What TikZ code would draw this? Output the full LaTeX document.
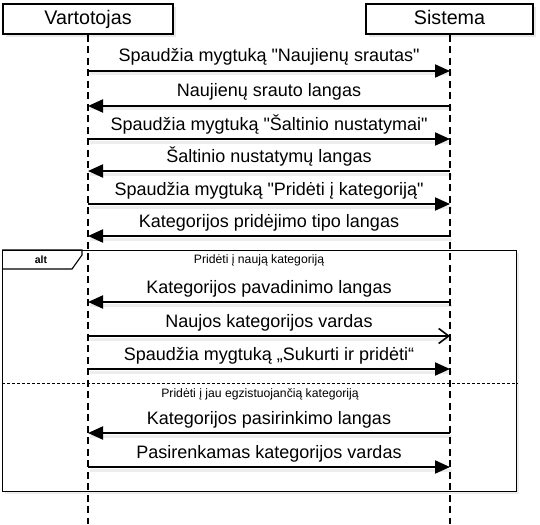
\documentclass[tikz,border=0pt]{standalone}
\usepackage{fontspec}
\setmainfont{Liberation Sans}
\usetikzlibrary{arrows.meta,shadows}
\newcommand{\qq}{\textquotedbl}
\begin{document}
\begin{tikzpicture}[x=1pt,y=-1pt,
  actor/.style={draw=black,line width=1.8pt,fill=white,minimum width=170pt,minimum height=30pt,inner sep=0pt,
     text height=14.2pt,text depth=4pt,
     font=\fontsize{19.7}{22}\selectfont,
     drop shadow={opacity=0.18,shadow xshift=3pt,shadow yshift=-3pt}},
  lifeline/.style={line width=2.2pt,dash pattern=on 7pt off 4.5pt},
  msg/.style={line width=2pt},
  msgshadow/.style={line width=3pt,draw=black,opacity=0.07},
  filled/.style={-{Triangle[length=15pt,width=13pt]}},
  openhead/.style={-{Straight Barb[length=10pt,width=15pt,line width=1.6pt]}},
  msglabel/.style={inner sep=0pt,font=\fontsize{18}{20}\selectfont},
  small/.style={anchor=base,inner sep=0pt,font=\fontsize{12.2}{14}\selectfont},
  frame/.style={draw=black,line width=1.1pt},
]
\useasboundingbox (0,0) rectangle (540,524);
\fill[white] (0,0) rectangle (540,524);

% alt frame
\fill[black,opacity=0.07] (5,253) rectangle (519,494);
\fill[white] (2,250) rectangle (516,491);
\node[frame,draw,minimum width=514pt,minimum height=241pt,inner sep=0pt,anchor=north west] (altframe) at (2,250) {};
\draw[frame] (2,250) -- (82,250) -- (82,255) -- (72,269) -- (2,269);
\node[inner sep=0pt,font=\fontsize{10.5}{12}\selectfont\bfseries] (altlabel) at (41,259.5) {alt};
\draw[line width=0.8pt,dash pattern=on 3pt off 2pt] (altframe.west |- 0,383) coordinate (sepL) -- (altframe.east |- 0,383) coordinate (sepR);
\node[small] (g1) at (259,263.5) {Pridėti į naują kategoriją};
\node[small] (g2) at (260,397.5) {Pridėti į jau egzistuojančią kategoriją};

% actors
\node[actor] (V) at (88,19) {Vartotojas};
\node[actor,minimum width=167pt] (S) at (449.5,19) {Sistema};
\coordinate (Vend) at (88,524);
\coordinate (Send) at (450,524);
\draw[lifeline] (V.south) -- (Vend);
\draw[lifeline] (S.south -| Send) -- (Send);

% message anchors on lifelines
\foreach \n/\yy in {1/71,2/106,3/139,4/171,5/204,6/236,7/302,8/336,9/369,10/433,11/467}{
  \coordinate (v\n) at (88,\yy);
  \coordinate (s\n) at (450,\yy);
}

% shadows of message lines
\foreach \n in {1,...,11}{
  \draw[msgshadow] ([shift={(2,3)}]v\n) -- ([shift={(2,3)}]s\n);
}

% messages
\tikzset{lbl/.style={msglabel,midway,above=9pt,anchor=base}}
\draw[msg,filled] (v1) -- (s1) node[lbl] (m1) {Spaudžia mygtuką \qq Naujienų srautas\qq};
\draw[msg,filled] (s2) -- (v2) node[lbl] (m2) {Naujienų srauto langas};
\draw[msg,filled] (v3) -- (s3) node[lbl] (m3) {Spaudžia mygtuką \qq Šaltinio nustatymai\qq};
\draw[msg,filled] (s4) -- (v4) node[lbl] (m4) {Šaltinio nustatymų langas};
\draw[msg,filled] (v5) -- (s5) node[lbl] (m5) {Spaudžia mygtuką \qq Pridėti į kategoriją\qq};
\draw[msg,filled] (s6) -- (v6) node[lbl] (m6) {Kategorijos pridėjimo tipo langas};
\draw[msg,filled] (s7) -- (v7) node[lbl] (m7) {Kategorijos pavadinimo langas};
\draw[msg,openhead] (v8) -- (s8) node[lbl] (m8) {Naujos kategorijos vardas};
\draw[msg,filled] (v9) -- (s9) node[lbl] (m9) {Spaudžia mygtuką „Sukurti ir pridėti“};
\draw[msg,filled] (s10) -- (v10) node[lbl] (m10) {Kategorijos pasirinkimo langas};
\draw[msg,filled] (v11) -- (s11) node[lbl] (m11) {Pasirenkamas kategorijos vardas};
\end{tikzpicture}
\end{document}
